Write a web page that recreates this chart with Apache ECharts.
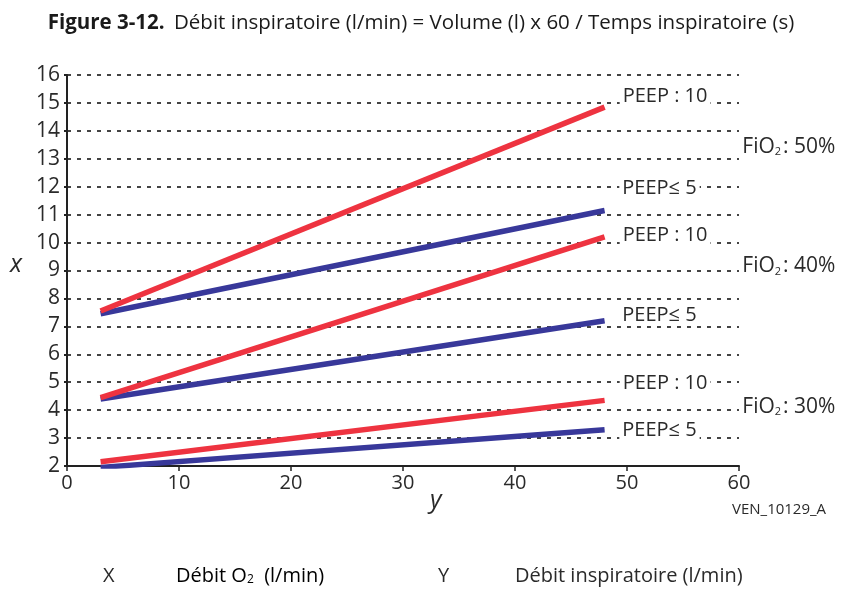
<!DOCTYPE html>
<html>
<head>
<meta charset="utf-8">
<script src="https://cdn.jsdelivr.net/npm/echarts@6/dist/echarts.min.js"></script>
<style>
  html, body { margin: 0; padding: 0; background: #fff; }
  #chart { width: 842px; height: 591px; }
</style>
</head>
<body>
<div id="chart"></div>
<script>
// Inspiratory flow (x axis, l/min) at the two ends of each line
const flowRange = [3, 48];

// O2 flow (l/min) at each end, per FiO2 / PEEP setting
const fio50Peep10 = [7.55, 14.85];
const fio50Peep5  = [7.45, 11.15];
const fio40Peep10 = [4.45, 10.2];
const fio40Peep5  = [4.4, 7.2];
const fio30Peep10 = [2.15, 4.35];
const fio30Peep5  = [1.95, 3.3];

// Axis ticks
const xTicks = [0, 10, 20, 30, 40, 50, 60];
const yTicks = [2, 3, 4, 5, 6, 7, 8, 9, 10, 11, 12, 13, 14, 15, 16];

// PEEP annotations: [x, y, text]
const peepLabels = [
  [53.4, 15.25, 'PEEP : 10'],
  [52.9, 11.95, 'PEEP\u2264 5'],
  [53.4, 10.27, 'PEEP : 10'],
  [52.9, 7.4, 'PEEP\u2264 5'],
  [53.4, 4.97, 'PEEP : 10'],
  [52.9, 3.29, 'PEEP\u2264 5']
];
// FiO2 annotations: [x, y, percent]
const fioLabels = [
  [60.3, 13.49, '50%'],
  [60.3, 9.2, '40%'],
  [60.3, 4.18, '30%']
];

const RED = '#ee3340';
const BLUE = '#38389a';
const INK = '#2a2a2a';
const FONT = 'Open Sans';

function pairs(ys) {
  return ys.map((v, i) => [flowRange[i], v]);
}

function lineSeries(name, ys, color) {
  return {
    name: name,
    type: 'line',
    data: pairs(ys),
    symbol: 'none',
    lineStyle: { color: color, width: 5.5, cap: 'butt' },
    silent: true,
    animation: false
  };
}

const chart = echarts.init(document.getElementById('chart'), null, { renderer: 'canvas' });

const option = {
  backgroundColor: '#fff',
  animation: false,
  textStyle: { fontFamily: FONT },
  title: {
    left: 'center',
    top: 8,
    text: '{b|Figure 3-12.}  {n|D\u00e9bit inspiratoire (l/min) = Volume (l) x 60 / Temps inspiratoire (s)}',
    textStyle: {
      fontWeight: 'normal',
      rich: {
        b: { fontFamily: FONT, fontWeight: 'bold', fontSize: 20.5, color: '#1a1a1a' },
        n: { fontFamily: FONT, fontWeight: 'normal', fontSize: 20.5, color: '#1a1a1a' }
      }
    }
  },
  grid: { left: 67, right: 103, top: 75, bottom: 125, containLabel: false },
  xAxis: {
    type: 'value',
    min: xTicks[0],
    max: xTicks[xTicks.length - 1],
    interval: 10,
    axisLine: { lineStyle: { color: '#222', width: 2 } },
    axisTick: { show: true, length: 5, lineStyle: { color: '#222', width: 1.5 } },
    axisLabel: { color: INK, fontSize: 20, fontFamily: FONT, margin: 7 },
    splitLine: { show: false }
  },
  yAxis: {
    type: 'value',
    min: yTicks[0],
    max: yTicks[yTicks.length - 1],
    interval: 1,
    axisLine: { show: true, lineStyle: { color: '#222', width: 2 } },
    axisTick: { show: true, length: 3, lineStyle: { color: '#222', width: 2 } },
    axisLabel: { color: INK, fontSize: 21, fontFamily: FONT, margin: 7 },
    splitLine: {
      show: true,
      lineStyle: { color: '#444', width: 2, type: [4, 6] }
    }
  },
  series: [
    lineSeries('FiO2 50% PEEP<=5', fio50Peep5, BLUE),
    lineSeries('FiO2 50% PEEP 10', fio50Peep10, RED),
    lineSeries('FiO2 40% PEEP<=5', fio40Peep5, BLUE),
    lineSeries('FiO2 40% PEEP 10', fio40Peep10, RED),
    lineSeries('FiO2 30% PEEP<=5', fio30Peep5, BLUE),
    lineSeries('FiO2 30% PEEP 10', fio30Peep10, RED),
    {
      name: 'PEEP',
      type: 'scatter',
      symbolSize: 0,
      clip: false,
      silent: true,
      itemStyle: { opacity: 1 },
      data: peepLabels.map(d => ({ value: [d[0], d[1]], name: d[2] })),
      label: {
        show: true,
        position: 'inside',
        formatter: p => p.name,
        color: INK,
        opacity: 1,
        fontSize: 20,
        fontFamily: FONT,
        backgroundColor: '#fff',
        padding: [0, 3]
      }
    },
    {
      name: 'FiO2',
      type: 'scatter',
      symbolSize: 0,
      clip: false,
      silent: true,
      itemStyle: { opacity: 1 },
      data: fioLabels.map(d => ({ value: [d[0], d[1]], name: d[2] })),
      label: {
        show: true,
        position: 'inside',
        align: 'left',
        opacity: 1,
        formatter: p => '{m|FiO}{s|2}{m|: ' + p.name + '}',
        rich: {
          m: { color: INK, fontSize: 21, fontFamily: FONT, lineHeight: 24, verticalAlign: 'bottom' },
          s: { color: INK, fontSize: 11, fontFamily: FONT, lineHeight: 22, verticalAlign: 'bottom', padding: [0, 2, 0, 0] }
        }
      }
    }
  ],
  graphic: [
    { type: 'text', left: 10, top: 252, style: { text: 'x', font: 'italic 25px "Open Sans"', fill: INK } },
    { type: 'text', left: 430, top: 488, style: { text: 'y', font: 'italic 25px "Open Sans"', fill: INK } },
    { type: 'text', left: 732, top: 502, style: { text: 'VEN_10129_A', font: '15px "Open Sans"', fill: INK } },
    { type: 'text', left: 103, top: 566, style: { text: 'X', font: '20px "Open Sans"', fill: INK } },
    {
      type: 'text', left: 176, top: 566,
      style: {
        text: '{m|D\u00e9bit O}{s|2}{m|  (l/min)}',
        rich: {
          m: { fontSize: 20, fontFamily: FONT, color: INK, lineHeight: 26, verticalAlign: 'bottom' },
          s: { fontSize: 12, fontFamily: FONT, color: INK, lineHeight: 22, verticalAlign: 'bottom' }
        }
      }
    },
    { type: 'text', left: 438, top: 566, style: { text: 'Y', font: '20px "Open Sans"', fill: INK } },
    { type: 'text', left: 515, top: 566, style: { text: 'D\u00e9bit inspiratoire (l/min)', font: '20px "Open Sans"', fill: INK } }
  ]
};

chart.setOption(option);
</script>
</body>
</html>
